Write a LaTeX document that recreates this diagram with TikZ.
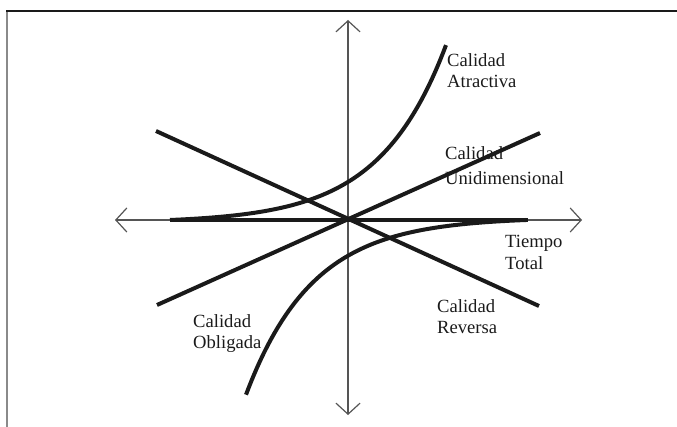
\documentclass[tikz,border=0pt]{standalone}
\usepackage{fontspec}
\setmainfont{Liberation Serif}
\usetikzlibrary{arrows.meta,positioning}
\definecolor{trazo}{HTML}{1A1A1A}
\definecolor{marco}{HTML}{555555}
\definecolor{margen}{HTML}{8A8A8A}

\begin{document}
\begin{tikzpicture}[
    x=1pt, y=-1pt,
    font=\fontsize{18.6}{21.5}\selectfont,
    eje/.style={draw=marco, line width=1.2pt,
      {Straight Barb[length=11pt, width=24pt]}-{Straight Barb[length=11pt, width=24pt]}},
    curva/.style={draw=trazo, line width=4pt},
    etiqueta/.style={align=left, anchor=north west, inner sep=0pt, text=trazo}
  ]
    \useasboundingbox (0,0) rectangle (677,427);
    % marco
    \draw[margen, line width=1.6pt] (7,427) -- (7,11);
    \draw[trazo, line width=1.2pt] (6.2,11) -- (677,11);
    % ejes
    \coordinate (o) at (348,220);
    \coordinate (izq) at (115,220);
    \coordinate (der) at (582,220);
    \coordinate (arr) at (348,20);
    \coordinate (aba) at (348,415);
    \draw[eje] (izq) -- (der);
    \draw[eje] (arr) -- (aba);
    % curvas
    \coordinate (h1) at (170,220);
    \coordinate (h2) at (528,220);
    \draw[curva] (h1) -- (h2);
    \coordinate (u1) at (157,305);
    \coordinate (u2) at (540,133);
    \draw[curva] (u1) -- (u2);
    \coordinate (r1) at (156,131);
    \coordinate (r2) at (539,306);
    \draw[curva] (r1) -- (r2);
    \draw[curva] plot[domain=0:276, samples=80]
      ({170+\x}, {220-2.83*(exp(0.015*\x)-1)});
    \draw[curva] plot[domain=0:280, samples=80]
      ({526-\x}, {220+2.66*(exp(0.015*\x)-1)});
    % etiquetas
    \node[etiqueta] (atr) at (447,53) {Calidad\\Atractiva};
    \node[etiqueta] (uni) at (445,146) {Calidad\\[4pt]Unidimensional};
    \node[etiqueta] (tie) at (505,235) {Tiempo\\Total};
    \node[etiqueta] (rev) at (437,299) {Calidad\\Reversa};
    \node[etiqueta] (obl) at (193,314) {Calidad\\Obligada};
\end{tikzpicture}
\end{document}
